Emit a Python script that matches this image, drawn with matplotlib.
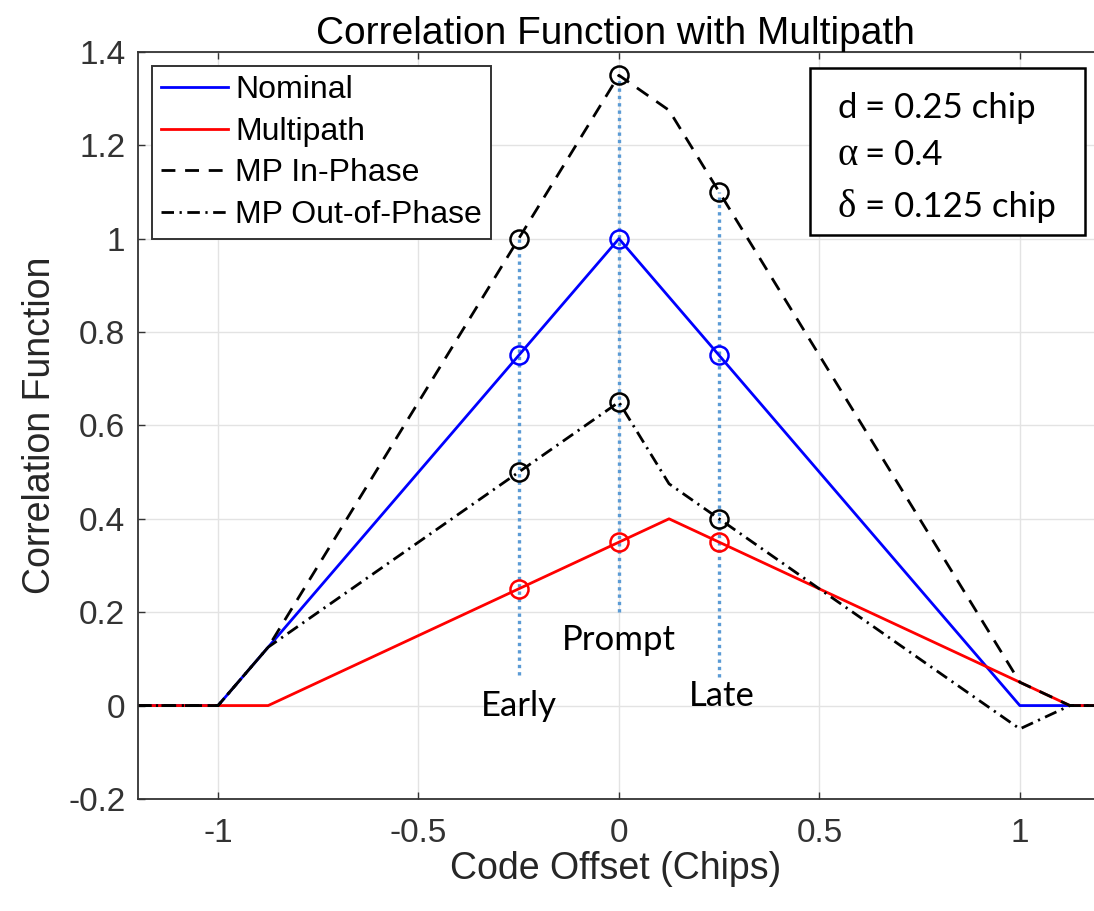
import matplotlib
matplotlib.use("Agg")
import matplotlib.pyplot as plt
from matplotlib import font_manager
from matplotlib.patches import Rectangle

# code offset breakpoints (chips)
tau = [-1.2, -1.0, -0.875, 0.0, 0.125, 1.0, 1.125, 1.2]
nominal = [0, 0, 0.125, 1.0, 0.875, 0, 0, 0]
multipath = [0, 0, 0, 0.35, 0.4, 0.05, 0, 0]
mp_in_phase = [0, 0, 0.125, 1.35, 1.275, 0.05, 0, 0]
mp_out_phase = [0, 0, 0.125, 0.65, 0.475, -0.05, 0, 0]

# early / prompt / late correlator taps
taps = [-0.25, 0.0, 0.25]
tap_names = ["Early", "Prompt", "Late"]
nom_taps = [0.75, 1.0, 0.75]
mp_taps = [0.25, 0.35, 0.35]
inph_taps = [1.0, 1.35, 1.1]
outph_taps = [0.5, 0.65, 0.4]
tap_line_bottom = [0.065, 0.2, 0.062]
tap_label_y = [0.0, 0.14, 0.02]

# parameter box text
param_syms = ["d", "\u03b1", "\u03b4"]
param_vals = ["= 0.25 chip", "= 0.4", "= 0.125 chip"]

installed = {f.name for f in font_manager.fontManager.ttflist}
sans = "Liberation Sans" if "Liberation Sans" in installed else "DejaVu Sans"
serif = "Liberation Serif" if "Liberation Serif" in installed else "DejaVu Serif"
label_font = "Lato" if "Lato" in installed else sans
plt.rcParams['font.family'] = [sans, 'DejaVu Sans']

fig = plt.figure(figsize=(10.94, 9.11), dpi=100)
ax = fig.add_axes([0.126, 0.123, 0.874, 0.820])

lw = 2.0
ax.plot(tau, nominal, color="#0000ff", lw=lw, label="Nominal")
ax.plot(tau, multipath, color="#ff0000", lw=lw, label="Multipath")
ax.plot(tau, mp_in_phase, color="black", lw=lw, ls=(0, (5, 3.5)), label="MP In-Phase")
ax.plot(tau, mp_out_phase, color="black", lw=lw, ls=(0, (4.5, 2, 0.8, 2)), label="MP Out-of-Phase")

# dotted tap lines
for x, yb, yt in zip(taps, tap_line_bottom, inph_taps):
    ax.plot([x, x], [yb, yt], color="#5b9bd5", lw=2.4, ls=(0, (1, 1.2)), zorder=1)

mk = dict(marker="o", ls="none", ms=13, mfc="none", mew=1.8)
ax.plot(taps, nom_taps, mec="#0000ff", **mk)
ax.plot(taps, mp_taps, mec="#ff0000", **mk)
ax.plot(taps, inph_taps, mec="black", **mk)
ax.plot(taps, outph_taps, mec="black", **mk)

for x, y, s in zip(taps, tap_label_y, tap_names):
    ax.text(x + (0.007 if s == "Late" else 0), y, s, ha="center", va="center",
            fontsize=25, family=label_font)

ax.set_xlim(-1.2, 1.185)
ax.set_ylim(-0.2, 1.4)
ax.set_xticks([-1, -0.5, 0, 0.5, 1])
ax.set_xticklabels(["-1", "-0.5", "0", "0.5", "1"])
ax.set_yticks([-0.2, 0, 0.2, 0.4, 0.6, 0.8, 1.0, 1.2, 1.4])
ax.set_yticklabels(["-0.2", "0", "0.2", "0.4", "0.6", "0.8", "1", "1.2", "1.4"])
ax.tick_params(direction="in", length=5, width=1, labelsize=24, colors="#333333",
               top=True, right=False)
ax.tick_params(axis="x", pad=14)
ax.tick_params(axis="y", pad=9)
for sp in ax.spines.values():
    sp.set_color("#333333")
    sp.set_linewidth(1.3)
ax.spines["right"].set_visible(False)
ax.grid(True, color="#e3e3e3", lw=1)
ax.set_axisbelow(True)

ax.set_title("Correlation Function with Multipath", fontsize=28, pad=6)
ax.set_xlabel("Code Offset (Chips)", fontsize=27, labelpad=1, color="#262626")
ax.set_ylabel("Correlation Function", fontsize=27, labelpad=7, color="#262626")

leg = ax.legend(loc="upper left", fontsize=23, frameon=True, fancybox=False,
                edgecolor="#333333", handlelength=2.1, borderaxespad=0.45,
                labelspacing=0.36, handletextpad=0.22, borderpad=0.28, framealpha=1)
leg.get_frame().set_linewidth(1.4)

# parameter box
ax.add_patch(Rectangle((0.703, 0.755), 0.288, 0.2236, transform=ax.transAxes,
                       fc="white", ec="black", lw=1.8, zorder=5))
for sym, val, yb in zip(param_syms, param_vals, [0.912, 0.849, 0.779]):
    ax.text(0.732, yb, sym, transform=ax.transAxes, ha="left", va="baseline",
            fontsize=25 if sym == "d" else 28, family=label_font if sym == "d" else serif,
            zorder=6)
    ax.text(0.761, yb, val, transform=ax.transAxes, ha="left", va="baseline",
            fontsize=25, family=label_font, zorder=6)

fig.savefig("out.png", dpi=100)
